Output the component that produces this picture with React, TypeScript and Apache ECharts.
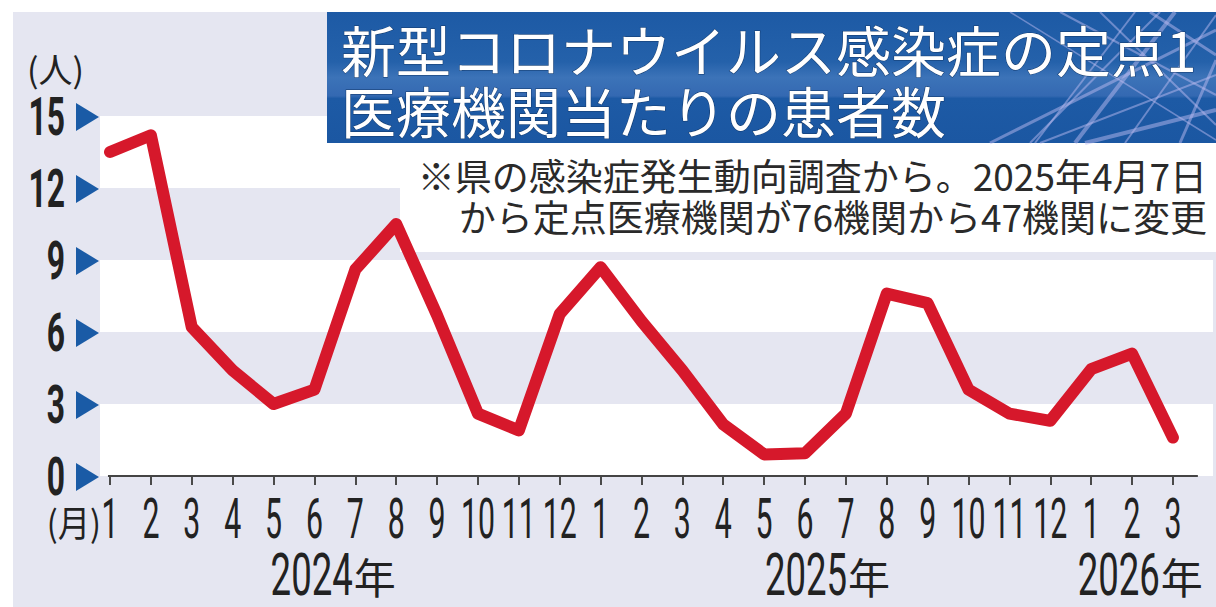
import React, { useEffect, useRef } from "react";
import * as echarts from "echarts";

const monthLabels = ["1","2","3","4","5","6","7","8","9","10","11","12","1","2","3","4","5","6","7","8","9","10","11","12","1","2","3"];
const patients = [13.5, 14.2, 6.2, 4.4, 3.0, 3.6, 8.6, 10.5, 6.7, 2.6, 1.9, 6.75, 8.7, 6.45, 4.4, 2.15, 0.9, 0.95, 2.6, 7.6, 7.2, 3.6, 2.6, 2.3, 4.45, 5.1, 1.6];
const yTicks = [0, 3, 6, 9, 12, 15];
const yearLabels = ["2024", "2025", "2026"];
const yearAnchors = [5.94, 18.03, 25.68];
const titleLines = ["新型コロナウイルス感染症の定点1", "医療機関当たりの患者数"];
const noteLines = ["※県の感染症発生動向調査から。2025年4月7日", "から定点医療機関が76機関から47機関に変更"];

const DIGIT = 'Roboto, "DejaVu Sans", sans-serif';
const JP = '"Noto Sans CJK JP", "Noto Sans CJK SC", sans-serif';
const LAVENDER = "#e5e6f1";
const INK = "#222222";

export default function App() {
  const ref = useRef<HTMLDivElement>(null);
  useEffect(() => {
    if (!ref.current) return;
    const chart = echarts.init(ref.current, undefined, { renderer: "svg" });
    const idx = monthLabels.map((_, i) => i);
    chart.setOption({
      animation: false,
      backgroundColor: LAVENDER,
      grid: { left: 100, right: 3, top: 116, bottom: 131 },
      xAxis: {
        type: "value",
        min: -0.245,
        max: 26.98,
        axisLine: { show: false },
        splitLine: { show: false },
        axisTick: {
          show: true,
          customValues: idx,
          length: 9,
          lineStyle: { color: "#4a4a4a", width: 2 },
        },
        axisLabel: { show: false },
      },
      yAxis: {
        type: "value",
        min: 0,
        max: 15,
        interval: 3,
        axisLine: { show: false },
        axisTick: { show: false },
        splitLine: { show: false },
        splitArea: { show: true, areaStyle: { color: ["#ffffff", LAVENDER] } },
        axisLabel: { show: false },
      },
      series: [
        {
          type: "line",
          data: patients.map((v, i) => [i, v]),
          symbol: "none",
          clip: false,
          z: 3,
          lineStyle: { color: "#d6182b", width: 12, join: "round", cap: "round" },
          markLine: {
            silent: true,
            symbol: "none",
            label: { show: false },
            lineStyle: { color: "#444", width: 2, type: "solid" },
            data: [[{ coord: [-0.05, 0] }, { coord: [26.61, 0] }]],
          },
        },
      ],
    });

    const px = (x: number, y: number) =>
      chart.convertToPixel({ xAxisIndex: 0, yAxisIndex: 0 }, [x, y]) as number[];

    const monthTexts = monthLabels.map((m, i) => ({
      type: "text",
      z: 5,
      x: px(i, 0)[0],
      y: 519,
      scaleX: 0.55,
      style: { text: m, fontFamily: DIGIT, fontSize: 55, fill: INK, align: "center", verticalAlign: "middle" },
    }));

    const yTexts = yTicks.map((v) => ({
      type: "text",
      z: 5,
      x: 65,
      y: px(0, v)[1] + 1,
      scaleX: 0.6,
      style: { text: String(v), fontFamily: DIGIT, fontSize: 53, fontWeight: "bold", fill: INK, align: "right", verticalAlign: "middle" },
    }));

    const triangles = yTicks.map((v) => {
      const y = px(0, v)[1] + 1;
      return {
        type: "polygon",
        z: 5,
        shape: { points: [[76, y - 14], [99, y], [76, y + 14]] },
        style: { fill: "#1a5ba6" },
      };
    });

    const yearTexts = yearLabels.flatMap((y, i) => {
      const x = px(yearAnchors[i], 0)[0];
      return [
        {
          type: "text", z: 5, x, y: 575, scaleX: 0.62,
          style: { text: y, fontFamily: DIGIT, fontSize: 59, fill: INK, align: "right", verticalAlign: "middle" },
        },
        {
          type: "text", z: 5, x: x + 1, y: 575,
          style: { text: "年", fontFamily: JP, fontSize: 42, fill: INK, align: "left", verticalAlign: "middle" },
        },
      ];
    });

    const deco = [
      [990, 143, 1216, 30, 3],
      [1040, 143, 1216, 75, 2],
      [1085, 143, 1216, 110, 4],
      [1100, 12, 1216, 125, 2],
      [1060, 12, 1216, 95, 2],
      [1150, 12, 1216, 55, 3],
      [1135, 12, 1035, 143, 2],
      [1175, 12, 1075, 143, 4],
      [1216, 15, 1125, 143, 2],
      [1030, 143, 1160, 12, 2],
      [1216, 60, 1180, 143, 3],
      [1010, 12, 1216, 140, 1.5],
    ].map(([x1, y1, x2, y2, w]) => ({
      type: "line",
      z: 11,
      shape: { x1, y1, x2, y2 },
      style: { stroke: "rgba(185,185,240,0.5)", lineWidth: w },
    }));

    chart.setOption({
      graphic: [
        { type: "rect", z: 1, shape: { x: 0, y: 0, width: 1216, height: 12 }, style: { fill: "#ffffff" } },
        { type: "rect", z: 1, shape: { x: 0, y: 0, width: 13, height: 607 }, style: { fill: "#ffffff" } },
        { type: "rect", z: 1, shape: { x: 400, y: 143, width: 816, height: 109 }, style: { fill: "#ffffff" } },
        {
          type: "rect", z: 10, shape: { x: 327, y: 12, width: 889, height: 131 },
          style: {
            fill: new echarts.graphic.LinearGradient(0, 0, 0, 1, [
              { offset: 0, color: "#1d5aa5" },
              { offset: 0.38, color: "#2461aa" },
              { offset: 0.5, color: "#3c73b8" },
              { offset: 0.64, color: "#3469b2" },
              { offset: 0.66, color: "#1d5aa5" },
              { offset: 1, color: "#1b57a2" },
            ]),
          },
        },
        ...deco,
        {
          type: "text", z: 12, x: 341, y: 78.5,
          style: { text: titleLines.join("\n"), fontFamily: JP, fontSize: 55, lineHeight: 61, fill: "#ffffff", verticalAlign: "middle", stroke: "#12386a", lineWidth: 1 },
        },
        {
          type: "text", z: 12, x: 1207, y: 195.5,
          style: { text: noteLines.join("\n"), fontFamily: JP, fontSize: 37, lineHeight: 41, fill: "#2a2a2a", align: "right", verticalAlign: "middle" },
        },
        {
          type: "text", z: 12, x: 27, y: 68,
          style: { text: "(人)", fontFamily: JP, fontSize: 34, fill: INK, verticalAlign: "middle" },
        },
        {
          type: "text", z: 12, x: 101, y: 521,
          scaleX: 0.9,
          style: { text: "(月)", fontFamily: JP, fontSize: 36, fill: INK, align: "right", verticalAlign: "middle" },
        },
        ...yTexts,
        ...triangles,
        ...monthTexts,
        ...yearTexts,
      ],
    });
    return () => chart.dispose();
  }, []);
  return <div ref={ref} style={{ position: "fixed", left: 0, top: 0, width: 1216, height: 607 }} />;
}
